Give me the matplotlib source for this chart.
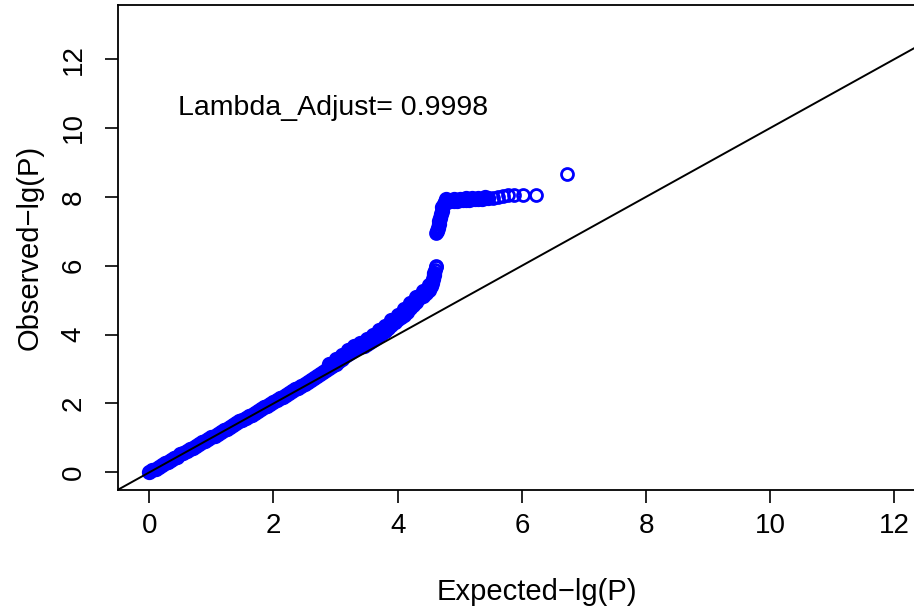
import matplotlib
matplotlib.use("Agg")
import matplotlib.pyplot as plt

plt.rcParams["font.family"] = ["Liberation Sans", "DejaVu Sans"]

# Dense part of the QQ band (expected vs observed -lg(P))
expected_dense = [
    0.00, 0.05, 0.10, 0.15, 0.20, 0.25, 0.30, 0.35, 0.40, 0.45,
    0.50, 0.55, 0.60, 0.65, 0.70, 0.75, 0.80, 0.85, 0.90, 0.95,
    1.00, 1.05, 1.10, 1.15, 1.20, 1.25, 1.30, 1.35, 1.40, 1.45,
    1.50, 1.55, 1.60, 1.65, 1.70, 1.75, 1.80, 1.85, 1.90, 1.95,
    2.00, 2.05, 2.10, 2.15, 2.20, 2.25, 2.30, 2.35, 2.40, 2.45,
    2.50, 2.55, 2.60, 2.65, 2.70, 2.75, 2.80, 2.85, 2.90, 2.95,
    3.00, 3.05, 3.10, 3.15, 3.20, 3.25, 3.30, 3.35, 3.40, 3.45,
    3.50, 3.55, 3.60, 3.65, 3.70, 3.75, 3.80, 3.85, 3.90, 3.95,
    4.00, 4.05, 4.10, 4.15, 4.20, 4.25, 4.30, 4.35, 4.40, 4.45,
    4.50, 4.53, 4.55, 4.57, 4.58, 4.59,
    4.63, 4.65, 4.66, 4.67, 4.68, 4.70, 4.71, 4.72, 4.74, 4.76,
    4.80, 4.85, 4.90, 4.95, 5.00, 5.05, 5.10, 5.15, 5.20, 5.25,
    5.30, 5.35, 5.40, 5.45,
]
observed_dense = [
    0.01, 0.06, 0.11, 0.16, 0.21, 0.26, 0.31, 0.36, 0.41, 0.46,
    0.52, 0.57, 0.62, 0.67, 0.72, 0.77, 0.82, 0.87, 0.92, 0.97,
    1.02, 1.07, 1.12, 1.17, 1.22, 1.27, 1.32, 1.38, 1.43, 1.48,
    1.53, 1.58, 1.63, 1.68, 1.73, 1.78, 1.84, 1.89, 1.94, 1.99,
    2.04, 2.09, 2.15, 2.20, 2.25, 2.30, 2.36, 2.41, 2.46, 2.52,
    2.57, 2.63, 2.68, 2.74, 2.80, 2.86, 2.92, 2.98, 3.04, 3.10,
    3.16, 3.23, 3.30, 3.37, 3.44, 3.50, 3.55, 3.60, 3.64, 3.68,
    3.73, 3.78, 3.84, 3.91, 3.98, 4.04, 4.10, 4.18, 4.28, 4.36,
    4.44, 4.52, 4.58, 4.66, 4.76, 4.86, 4.96, 5.05, 5.13, 5.22,
    5.30, 5.40, 5.50, 5.62, 5.72, 5.80,
    7.02, 7.10, 7.20, 7.30, 7.40, 7.50, 7.60, 7.70, 7.78, 7.84,
    7.86, 7.87, 7.88, 7.89, 7.90, 7.90, 7.91, 7.92, 7.93, 7.93,
    7.94, 7.95, 7.96, 7.97,
]

# Upper edge of the band where it widens (3 to 4.5)
expected_upper = [
    2.90, 3.00, 3.10, 3.20, 3.30, 3.40, 3.50, 3.60, 3.70, 3.80,
    3.90, 4.00, 4.10, 4.20, 4.30, 4.40, 4.50,
    4.78, 4.90, 5.00, 5.10, 5.20, 5.30, 5.40,
]
observed_upper = [
    3.14, 3.28, 3.42, 3.56, 3.66, 3.76, 3.86, 3.98, 4.12, 4.26,
    4.42, 4.58, 4.74, 4.92, 5.10, 5.28, 5.45,
    7.93, 7.94, 7.95, 7.96, 7.97, 7.98, 7.99,
]

# Sparse single circles at the top of the band
expected_sparse = [4.60, 4.61, 4.62, 4.62, 5.54, 5.62, 5.70, 5.77, 5.88, 6.02, 6.23, 6.72]
observed_sparse = [5.88, 5.96, 6.00, 6.95, 7.97, 7.99, 8.02, 8.04, 8.05, 8.04, 8.04, 8.67]

lambda_adjust = 0.9998
ticks = [0, 2, 4, 6, 8, 10, 12]

fig = plt.figure(figsize=(9.14, 6.12), dpi=100)
ax = fig.add_axes([0.1291, 0.1993, 0.9175, 0.7925])

ax.plot(expected_dense, observed_dense, "o", mfc="none", mec="#0000ff",
        ms=7.6, mew=3.4, zorder=2)
ax.plot(expected_upper, observed_upper, "o", mfc="none", mec="#0000ff",
        ms=7.6, mew=3.4, zorder=2)
ax.plot(expected_sparse, observed_sparse, "o", mfc="none", mec="#0000ff",
        ms=8.6, mew=2.0, zorder=2)
ax.axline((0, 0), slope=1, color="black", linewidth=1.4, zorder=3)

ax.set_xlim(-0.504, 13.0)
ax.set_ylim(-0.513, 13.57)
ax.set_xticks(ticks)
ax.set_yticks(ticks)
ax.tick_params(axis="both", direction="out", length=9.5, width=1.2,
               labelsize=20, color="black")
ax.tick_params(axis="x", pad=7)
ax.tick_params(axis="y", pad=13, labelrotation=90)
for lab in ax.get_yticklabels():
    lab.set_va("center")

for sp in ax.spines.values():
    sp.set_linewidth(1.3)
    sp.set_color("black")

ax.set_xlabel("Expected\u2212lg(P)", fontsize=21, labelpad=28)
ax.set_ylabel("Observed\u2212lg(P)", fontsize=21, labelpad=12)

ax.text(0.46, 10.59, f"Lambda_Adjust= {lambda_adjust}", fontsize=20.5,
        ha="left", va="center")

fig.savefig("out.png", dpi=100)
